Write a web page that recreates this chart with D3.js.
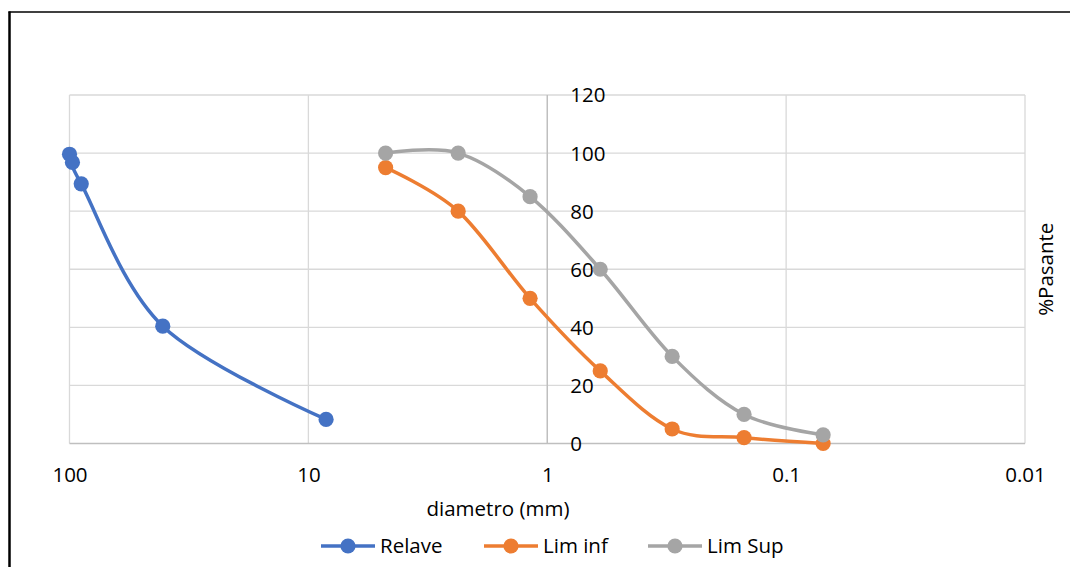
<!DOCTYPE html>
<html>
<head>
<meta charset="utf-8">
<script src="https://cdn.jsdelivr.net/npm/d3@7"></script>
<style>
  html, body { margin: 0; padding: 0; background: #fff; }
  svg { display: block; }
  text { font-family: "Open Sans", "Noto Sans", sans-serif; fill: #000; }
</style>
</head>
<body>
<svg id="chart" width="1070" height="567"></svg>
<script>
// ---- Data ----
const relaveD = [100, 97.2, 89.3, 40.7, 8.43];
const relaveP = [99.6, 96.8, 89.4, 40.4, 8.3];
const limD    = [4.75, 2.36, 1.18, 0.6, 0.3, 0.15, 0.07];
const limInf  = [95, 80, 50, 25, 5, 2, 0];
const limSup  = [100, 100, 85, 60, 30, 10, 3];
const xTicks  = [100, 10, 1, 0.1, 0.01];
const xTickLabels = ["100", "10", "1", "0.1", "0.01"];
const yTicks  = [0, 20, 40, 60, 80, 100, 120];
const seriesNames = ["Relave", "Lim inf", "Lim Sup"];
const seriesColors = ["#4472C4", "#ED7D31", "#A5A5A5"];

const series = [
  { name: seriesNames[0], color: seriesColors[0], pts: relaveD.map((d, i) => [d, relaveP[i]]) },
  { name: seriesNames[1], color: seriesColors[1], pts: limD.map((d, i) => [d, limInf[i]]) },
  { name: seriesNames[2], color: seriesColors[2], pts: limD.map((d, i) => [d, limSup[i]]) }
];

const svg = d3.select("#chart");
const FS = 20.5;

// outer frame (partially cropped)
svg.append("line").attr("x1", 8.5).attr("x2", 1070).attr("y1", 12).attr("y2", 12)
  .attr("stroke", "#000").attr("stroke-width", 1.5);
svg.append("line").attr("x1", 9.5).attr("x2", 9.5).attr("y1", 11.5).attr("y2", 567)
  .attr("stroke", "#000").attr("stroke-width", 2.5);

const x = d3.scaleLog().domain([100, 0.01]).range([69.5, 1025]);
const y = d3.scaleLinear().domain([0, 120]).range([443.5, 95]);

// gridlines
const grid = svg.append("g");
grid.selectAll("line.h").data(yTicks.filter(v => v !== 0)).join("line")
  .attr("x1", x(100)).attr("x2", x(0.01))
  .attr("y1", d => y(d)).attr("y2", d => y(d))
  .attr("stroke", "#d9d9d9").attr("stroke-width", 1.3);
grid.selectAll("line.v").data(xTicks.filter(v => v !== 1)).join("line")
  .attr("x1", d => x(d)).attr("x2", d => x(d))
  .attr("y1", y(0)).attr("y2", y(120))
  .attr("stroke", "#d9d9d9").attr("stroke-width", 1.3);

// axis lines
svg.append("line").attr("x1", x(100)).attr("x2", x(0.01)).attr("y1", y(0)).attr("y2", y(0))
  .attr("stroke", "#bfbfbf").attr("stroke-width", 1.5);
svg.append("line").attr("x1", x(1)).attr("x2", x(1)).attr("y1", y(0)).attr("y2", y(120))
  .attr("stroke", "#bfbfbf").attr("stroke-width", 1.5);

// x tick labels via d3 axis (no lines)
const xAxis = d3.axisBottom(x).tickValues(xTicks)
  .tickFormat((d, i) => xTickLabels[i]).tickSize(0).tickPadding(0);
const gx = svg.append("g").attr("transform", `translate(0, ${y(0)})`).call(xAxis);
gx.select(".domain").remove();
gx.selectAll("text").attr("font-size", FS).attr("font-family", "Open Sans")
  .attr("dy", null).attr("y", 38.5).attr("fill", "#000");

// y tick labels (right of axis at x=1)
const yAxis = d3.axisRight(y).tickValues(yTicks).tickSize(0).tickPadding(0);
const gy = svg.append("g").attr("transform", `translate(${x(1) + 23}, 0)`).call(yAxis);
gy.select(".domain").remove();
gy.selectAll("text").attr("font-size", FS).attr("font-family", "Open Sans")
  .attr("x", 0).attr("dy", "0.34em").attr("text-anchor", "start").attr("fill", "#000");

// axis titles
svg.append("text").attr("x", 498).attr("y", 516).attr("text-anchor", "middle")
  .attr("font-size", FS).text("diametro (mm)");
svg.append("text").attr("transform", `translate(1053, ${(y(0) + y(120)) / 2}) rotate(-90)`)
  .attr("text-anchor", "middle").attr("font-size", FS).text("%Pasante");

// series
const line = d3.line().x(d => x(d[0])).y(d => y(d[1])).curve(d3.curveCatmullRom.alpha(0));
series.forEach(s => {
  const g = svg.append("g");
  g.append("path").attr("d", line(s.pts)).attr("fill", "none")
    .attr("stroke", s.color).attr("stroke-width", 3.5).attr("stroke-linejoin", "round").attr("stroke-linecap", "round");
  g.selectAll("circle").data(s.pts).join("circle")
    .attr("cx", d => x(d[0])).attr("cy", d => y(d[1])).attr("r", 7.6).attr("fill", s.color);
});

// legend
const legendX = [321, 484, 648];
const legendY = 546;
series.forEach((s, i) => {
  const g = svg.append("g").attr("transform", `translate(${legendX[i]}, ${legendY})`);
  g.append("line").attr("x1", 0).attr("x2", 54).attr("y1", 0).attr("y2", 0)
    .attr("stroke", s.color).attr("stroke-width", 3.5);
  g.append("circle").attr("cx", 27).attr("cy", 0).attr("r", 7.6).attr("fill", s.color);
  g.append("text").attr("x", 59).attr("y", 0).attr("dy", "0.36em").attr("font-size", FS).text(s.name);
});
</script>
</body>
</html>
